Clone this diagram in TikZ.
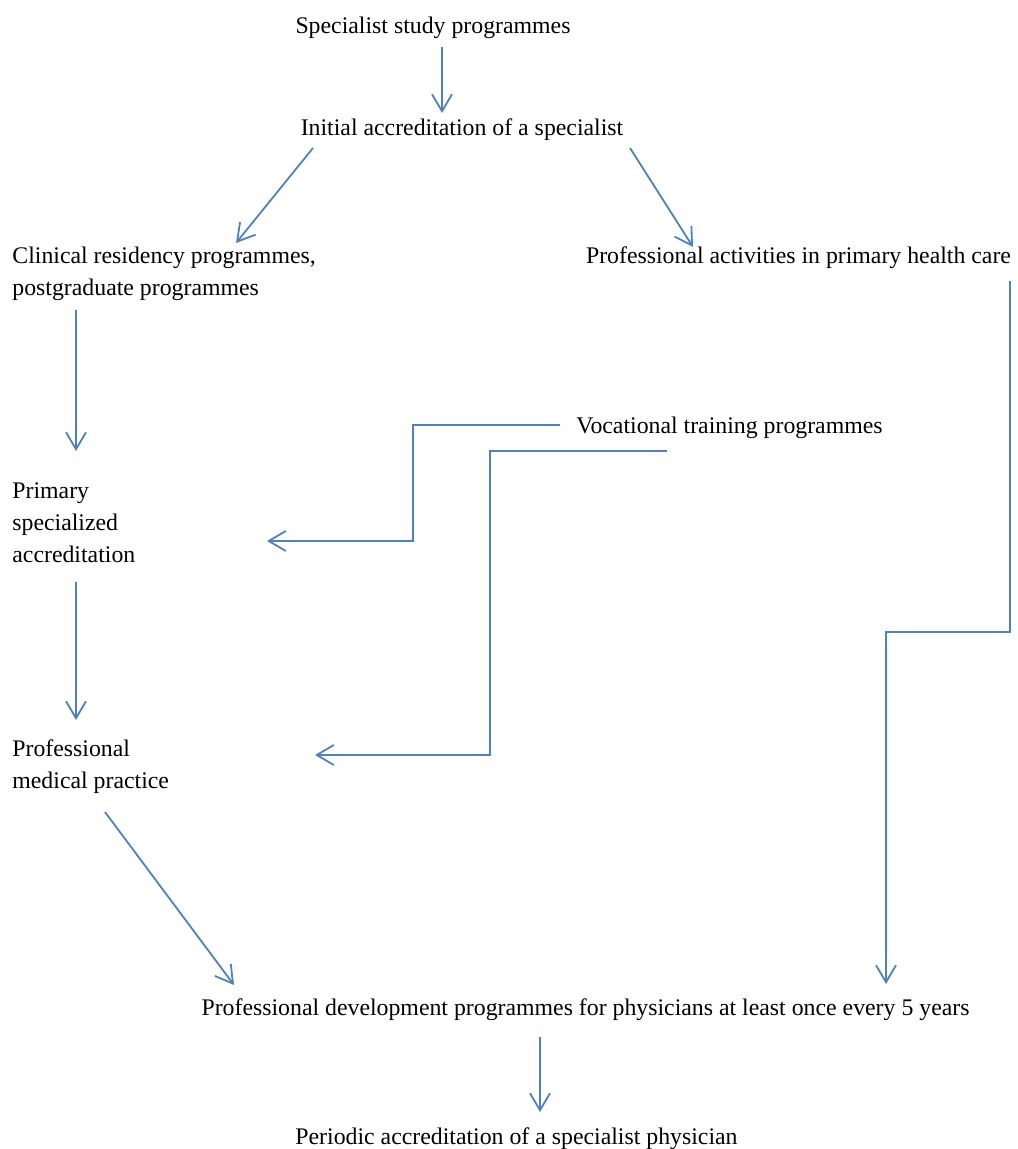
\documentclass[tikz,border=0pt]{standalone}
\usepackage{fontspec}
\setmainfont{Liberation Serif}
\usepackage{xcolor}
\usetikzlibrary{arrows.meta,calc,positioning}

\definecolor{flowblue}{HTML}{4F81BD}

\begin{document}
\begin{tikzpicture}[x=0.5pt, y=-0.5pt,
        label/.style = {inner sep=0pt, font=\fontsize{11.9}{16}\selectfont, align=left},
        flow/.style = {draw=flowblue, line width=0.9pt, -{Straight Barb[length=8.5pt, width=10pt]}}]
        \useasboundingbox (0,0) rectangle (1017,1149);

        % texts (multi-line nodes sit on their last line)
        \node(spec) [label, anchor=base] at (433,34) {Specialist study programmes};
        \node(init) [label, anchor=base] at (462,136) {Initial accreditation of a specialist};
        \node(clin) [label, anchor=base west] at (12,296) {Clinical residency programmes,\\postgraduate programmes};
        \node(pact) [label, anchor=base] at (798.5,264) {Professional activities in primary health care};
        \node(voc) [label, anchor=base] at (729.5,433) {Vocational training programmes};
        \node(prim) [label, anchor=base west] at (12,562) {Primary\\specialized\\accreditation};
        \node(prac) [label, anchor=base west] at (12,788) {Professional\\medical practice};
        \node(pdev) [label, anchor=base] at (585.5,1015) {Professional development programmes for physicians at least once every 5 years};
        \node(peri) [label, anchor=base] at (516.5,1144) {Periodic accreditation of a specialist physician};

        % arrows
        \draw[flow] ($(spec.base)+(9,13)$) -- ($(init.base)+(-20,-23)$);
        \draw[flow] ($(init.base)+(-149,12)$) -- ($(clin.base west)+(224,-53)$);
        \draw[flow] ($(init.base)+(168,12)$) -- ($(pact.base)+(-105.5,-17)$);
        \draw[flow] ($(clin.base west)+(64,14)$) -- ($(prim.base west)+(64,-111)$);
        \draw[flow] ($(prim.base west)+(64,20)$) -- ($(prac.base west)+(64,-68)$);
        \draw[flow] ($(prac.base west)+(93,24)$) -- ($(pdev.base)+(-351.5,-30)$);
        \draw[flow] ($(pact.base)+(211.5,17)$) |- ($(pdev.base)+(300.5,-383)$) -- ($(pdev.base)+(300.5,-31)$);
        \draw[flow] ($(voc.base)+(-169.5,-8)$) -| ($(prim.base west)+(401,-21)$) -- ($(prim.base west)+(255,-21)$);
        \draw[flow] ($(voc.base)+(-62.5,18)$) -| ($(prac.base west)+(478,-33)$) -- ($(prac.base west)+(303,-33)$);
        \draw[flow] ($(pdev.base)+(-45.5,22)$) -- ($(peri.base)+(23.5,-32)$);
    \end{tikzpicture}
\end{document}
